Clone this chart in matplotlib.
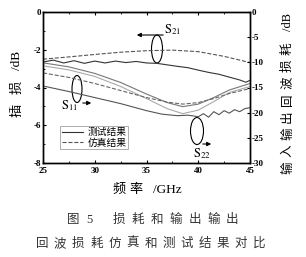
import numpy as np
import matplotlib
matplotlib.use("Agg")
import matplotlib.pyplot as plt
from matplotlib.patches import Ellipse
from matplotlib.font_manager import FontProperties

plt.rcParams['font.family'] = ['Noto Sans CJK SC', 'DejaVu Sans']
plt.rcParams['mathtext.fontset'] = 'stix'
plt.rcParams['axes.unicode_minus'] = False

# S21 (insertion loss, left axis)
f_s21 = [25, 26, 27, 28, 29, 30, 31, 32, 33, 34, 35, 36, 37, 38, 39, 40, 41, 42, 43, 44, 44.6, 45]
s21_meas = [-2.65, -2.55, -2.7, -2.58, -2.72, -2.6, -2.7, -2.6, -2.68, -2.62, -2.7, -2.72,
            -2.8, -2.88, -2.95, -3.08, -3.2, -3.3, -3.45, -3.6, -3.72, -3.62]
f_s21_sim = [25, 27.5, 30, 32.5, 35, 37.5, 40, 42.5, 45]
s21_sim = [-2.5, -2.38, -2.25, -2.13, -2.05, -2.02, -2.1, -2.35, -2.68]

# return loss curves (right axis)
f_rl = [25, 27.5, 30, 32.5, 35, 37, 38.5, 40, 41.5, 43, 45]
s11_meas = [-10.1, -10.9, -12.2, -14.0, -16.3, -18.0, -18.8, -18.3, -17.0, -15.5, -14.2]
s11_meas2 = [-10.7, -11.5, -12.8, -14.8, -17.2, -19.2, -20.2, -19.5, -17.8, -16.0, -14.8]
s11_sim = [-12.1, -13.0, -14.2, -15.6, -17.0, -17.9, -18.3, -18.0, -17.2, -16.2, -15.2]
f_s22 = [25, 27.5, 30, 32.5, 35, 36.5, 38, 39, 40, 40.5, 41, 41.5, 42, 42.5, 43, 43.5, 44, 44.5, 45]
s22_meas = [-14.7, -15.8, -17.0, -18.2, -19.6, -20.3, -20.6, -20.5, -20.8, -20.2, -20.9, -19.8,
            -20.4, -19.6, -20.1, -19.4, -19.8, -19.2, -19.0]

W, H = 306, 257
fig = plt.figure(figsize=(3.06, 2.57), dpi=100)
ax = fig.add_axes([43/W, 1-163/H, 207/W, 151/H])
ax2 = ax.twinx()

ax.plot(f_s21, s21_meas, color='#333333', lw=0.8, label='测试结果')
ax.plot(f_s21_sim, s21_sim, color='#555555', lw=0.8, ls='--', label='仿真结果')
ax2.plot(f_rl, s11_meas, color='#777777', lw=0.8)
ax2.plot(f_rl, s11_meas2, color='#aaaaaa', lw=0.8)
ax2.plot(f_rl, s11_sim, color='#666666', lw=0.8, ls='--')
ax2.plot(f_s22, s22_meas, color='#555555', lw=0.8)

ax.set_xlim(25, 45)
ax.set_ylim(-8, 0)
ax2.set_ylim(-30, 0)
ax.set_xticks([25, 30, 35, 40, 45])
ax.set_xticks([27.5, 32.5, 37.5, 42.5], minor=True)
ax.set_yticks([0, -2, -4, -6, -8])
ax.set_yticks([-1, -3, -5, -7], minor=True)
ax2.set_yticks([0, -5, -10, -15, -20, -25, -30])

tick_fp = FontProperties(family='Liberation Serif', weight='bold', size=6.5)
for a in (ax, ax2):
    a.tick_params(direction='in', length=2.5, width=0.8, pad=1.5)
    a.tick_params(which='minor', direction='in', length=1.5, width=0.6)
    for lab in a.get_xticklabels() + a.get_yticklabels():
        lab.set_fontproperties(tick_fp)
    for s in a.spines.values():
        s.set_linewidth(1.0)
ax.tick_params(top=True, which='both')
ax.tick_params(axis='x', pad=3)

leg = ax.legend(loc='lower left', bbox_to_anchor=(0.06, 0.06), fontsize=7, frameon=True,
                fancybox=False, edgecolor='#888888', handlelength=2.2, borderpad=0.15,
                labelspacing=0.05, handletextpad=0.5)
leg.get_frame().set_linewidth(0.6)

# annotations (pixel positions converted to axes fraction)
def fx(x):
    return (x - 43) / 207

def fy(y):
    return (163 - y) / 151

for cx, cy, w, h in [(157, 49, 11, 28), (77, 89, 10, 27), (197, 131, 13, 27)]:
    ax.add_patch(Ellipse((fx(cx), fy(cy)), w/207, h/151, transform=ax.transAxes,
                         fill=False, lw=0.8, color='black'))
for x0, y0, x1, y1 in [(166, 35, 134, 35), (80, 103, 94, 103), (200, 144, 214, 144)]:
    ax.annotate('', xy=(fx(x1), fy(y1)), xytext=(fx(x0), fy(y0)), xycoords='axes fraction',
                arrowprops=dict(arrowstyle='-|>', lw=0.8, color='black', mutation_scale=6))
for x, y, s in [(173, 30, '21'), (70, 106, '11'), (202, 154, '22')]:
    ax.text(fx(x), fy(y), r'$\mathrm{S}_{%s}$' % s, transform=ax.transAxes, fontsize=9,
            ha='center', va='center')

# spaced labels, one character at a time
lab_family = ['Liberation Serif', 'Noto Sans CJK SC']

def hrow(chars, xs, y, size, color='black'):
    for c, x in zip(chars, xs):
        fig.text(x/W, 1-y/H, c, fontsize=size, ha='center', va='center', color=color,
                 family=lab_family)

def vcol(chars, ys, x, size):
    for c, y in zip(chars, ys):
        fig.text(x/W, 1-y/H, c, fontsize=size, ha='center', va='center', rotation=90,
                 family=lab_family)

hrow(['频', '率', '/GHz'], [119, 136, 167], 190, 9.5)
vcol(['插', '损', '/dB'], [110, 87, 60], 17, 9.5)
vcol(['输', '入', '输', '出', '回', '波', '损', '耗', '/dB'],
     [168 - 17.1*i for i in range(8)] + [22], 288, 9)

cap = '#333333'
hrow(['图', '5', '损', '耗', '和', '输', '出', '输', '出'],
     [73, 89] + [119 + 18.9*i for i in range(7)], 220, 9, cap)
hrow(list('回波损耗仿真和测试结果对比'), [42 + 18.1*i for i in range(13)], 244, 9, cap)

fig.savefig('out.png', dpi=100)
